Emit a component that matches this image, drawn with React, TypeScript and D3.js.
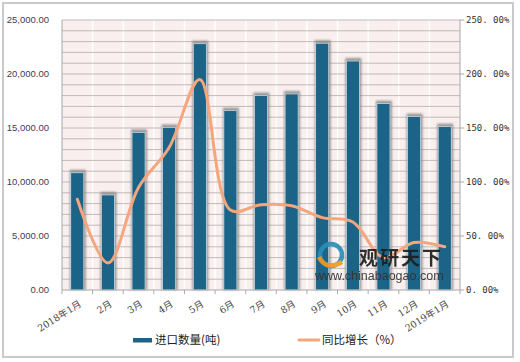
import React, { useEffect, useRef } from 'react';
import * as d3 from 'd3';

const months = ['2018年1月', '2月', '3月', '4月', '5月', '6月', '7月', '8月', '9月', '10月', '11月', '12月', '2019年1月'];
const importQty = [10850, 8800, 14600, 15050, 22800, 16600, 18000, 18150, 22850, 21200, 17250, 16050, 15120];
const yoyGrowth = [84, 25, 95, 132, 195, 74, 79, 78, 67, 63, 30, 44, 40];
const leftTicks = [0, 5000, 10000, 15000, 20000, 25000];
const rightTicks = [0, 50, 100, 150, 200, 250];

const W = 520;
const H = 362;
const margin = { top: 20, right: 60, bottom: 72, left: 62 };

const App: React.FC = () => {
  const svgRef = useRef<SVGSVGElement>(null);

  useEffect(() => {
    if (!svgRef.current) return;
    const svg = d3.select(svgRef.current);
    svg.selectAll('*').remove();

    const x0 = margin.left;
    const x1 = W - margin.right;
    const y0 = H - margin.bottom;
    const y1 = margin.top;

    const defs = svg.append('defs');
    const blur = defs.append('filter').attr('id', 'shadow').attr('x', '-50%').attr('y', '-50%').attr('width', '200%').attr('height', '200%');
    blur.append('feGaussianBlur').attr('stdDeviation', 1.2);

    // outer frame
    svg.append('rect')
      .attr('x', 3).attr('y', 3).attr('width', 510).attr('height', 354)
      .attr('fill', '#fff').attr('stroke', '#c9c9c9').attr('stroke-width', 2);

    const x = d3.scaleBand().domain(months).range([x0, x1]);
    const yL = d3.scaleLinear().domain([0, 25000]).range([y0, y1]);
    const yR = d3.scaleLinear().domain([0, 250]).range([y0, y1]);

    // plot background
    svg.append('rect')
      .attr('x', x0).attr('y', y1).attr('width', x1 - x0).attr('height', y0 - y1)
      .attr('fill', '#f8efee');

    // vertical light lines at category boundaries
    svg.append('g').selectAll('line')
      .data(months.slice(1))
      .enter().append('line')
      .attr('x1', d => x(d)!).attr('x2', d => x(d)!)
      .attr('y1', y1).attr('y2', y0)
      .attr('stroke', '#ffffff').attr('stroke-width', 1.5);

    // horizontal gridlines every 1000
    svg.append('g').selectAll('line')
      .data(d3.range(1000, 25001, 1000))
      .enter().append('line')
      .attr('x1', x0).attr('x2', x1)
      .attr('y1', d => yL(d)).attr('y2', d => yL(d))
      .attr('stroke', '#c0baba').attr('stroke-width', 1);

    // bar shadows
    const bw = 13;
    svg.append('g').selectAll('rect')
      .data(importQty)
      .enter().append('rect')
      .attr('x', (d, i) => x(months[i])! + x.bandwidth() / 2 - bw / 2 - 1)
      .attr('y', d => yL(d) - 3)
      .attr('width', bw + 3)
      .attr('height', d => y0 - yL(d) + 3)
      .attr('fill', '#7a7a7a')
      .attr('opacity', 0.75)
      .attr('filter', 'url(#shadow)');

    // bars
    svg.append('g').selectAll('rect')
      .data(importQty)
      .enter().append('rect')
      .attr('x', (d, i) => x(months[i])! + x.bandwidth() / 2 - bw / 2)
      .attr('y', d => yL(d))
      .attr('width', bw)
      .attr('height', d => y0 - yL(d))
      .attr('fill', '#1b6488')
      .attr('stroke', '#e8eef2').attr('stroke-width', 0.6);

    // axes lines
    svg.append('line').attr('x1', x0).attr('x2', x0).attr('y1', y1).attr('y2', y0)
      .attr('stroke', '#a8a8a8');
    svg.append('line').attr('x1', x0).attr('x2', x1).attr('y1', y0).attr('y2', y0)
      .attr('stroke', '#a8a8a8');
    svg.append('line').attr('x1', x1).attr('x2', x1).attr('y1', y1).attr('y2', y0)
      .attr('stroke', '#a8a8a8');

    // x ticks at boundaries
    svg.append('g').selectAll('line')
      .data(d3.range(0, months.length + 1))
      .enter().append('line')
      .attr('x1', i => x0 + i * x.step()).attr('x2', i => x0 + i * x.step())
      .attr('y1', y0).attr('y2', y0 + 4)
      .attr('stroke', '#a8a8a8');

    // right axis ticks
    svg.append('g').selectAll('line')
      .data(rightTicks)
      .enter().append('line')
      .attr('x1', x1).attr('x2', x1 + 4)
      .attr('y1', d => yR(d)).attr('y2', d => yR(d))
      .attr('stroke', '#a8a8a8');

    // left labels
    svg.append('g').selectAll('text')
      .data(leftTicks)
      .enter().append('text')
      .attr('x', 49).attr('y', d => yL(d)).attr('dy', '0.35em')
      .attr('text-anchor', 'end')
      .attr('font-family', 'Liberation Sans, Arial, sans-serif')
      .attr('font-size', 9.5)
      .attr('fill', '#3e3a5e')
      .text(d => d3.format(',.2f')(d));

    // right labels
    svg.append('g').selectAll('text')
      .data(rightTicks)
      .enter().append('text')
      .attr('x', x1 + 6).attr('y', d => yR(d)).attr('dy', '0.35em')
      .attr('font-family', 'DejaVu Sans Mono, monospace')
      .attr('font-size', 9)
      .attr('fill', '#333')
      .text(d => d3.format('.2f')(d).replace('.', '. ') + '%');

    // x labels rotated
    svg.append('g').selectAll('text')
      .data(months)
      .enter().append('text')
      .attr('transform', d => `translate(${x(d)! + x.bandwidth() / 2 + 3},${y0 + 13}) rotate(-32)`)
      .attr('text-anchor', 'end')
      .attr('dy', '0.35em')
      .attr('font-family', 'DejaVu Serif, "Noto Sans CJK SC", serif')
      .attr('font-size', 9.5)
      .attr('fill', '#444')
      .text(d => d);

    // line
    const line = d3.line<number>()
      .x((d, i) => x(months[i])! + x.bandwidth() / 2)
      .y(d => yR(d))
      .curve(d3.curveCatmullRom.alpha(0.5));
    svg.append('path')
      .datum(yoyGrowth)
      .attr('d', line)
      .attr('fill', 'none')
      .attr('stroke', '#f5a67c')
      .attr('stroke-width', 3)
      .attr('stroke-linecap', 'round');

    // watermark
    const wm = svg.append('g').attr('opacity', 0.92);
    wm.append('circle').attr('cx', 331).attr('cy', 255).attr('r', 11)
      .attr('fill', 'none').attr('stroke', '#2a8fb8').attr('stroke-width', 4.5);
    wm.append('path').attr('d', 'M319,257 Q326,271 342,262')
      .attr('fill', 'none').attr('stroke', '#f29a1f').attr('stroke-width', 4.5);
    wm.append('text').attr('x', 359).attr('y', 265)
      .attr('font-family', '"Noto Sans CJK SC", sans-serif')
      .attr('font-weight', 'bold').attr('font-size', 19).attr('fill', '#1e1e1e')
      .attr('letter-spacing', 2)
      .text('观研天下');
    wm.append('text').attr('x', 315).attr('y', 280)
      .attr('font-family', 'Liberation Sans, Arial, sans-serif')
      .attr('font-size', 12.5).attr('fill', '#333')
      .text('www.chinabaogao.com');

    // legend
    const ly = 340;
    svg.append('rect').attr('x', 133).attr('y', ly - 2).attr('width', 19).attr('height', 4.5).attr('fill', '#1b6488');
    svg.append('text').attr('x', 155).attr('y', ly).attr('dy', '0.35em')
      .attr('font-family', '"Noto Sans CJK SC", sans-serif').attr('font-size', 11.5).attr('fill', '#222')
      .text('进口数量(吨)');
    svg.append('line').attr('x1', 299).attr('x2', 319).attr('y1', ly).attr('y2', ly)
      .attr('stroke', '#f5a67c').attr('stroke-width', 3).attr('stroke-linecap', 'round');
    svg.append('text').attr('x', 322).attr('y', ly).attr('dy', '0.35em')
      .attr('font-family', '"Noto Sans CJK SC", sans-serif').attr('font-size', 11.5).attr('fill', '#222')
      .text('同比增长（%）');
  }, []);

  return (
    <svg ref={svgRef} width={W} height={H} style={{ position: 'absolute', left: 0, top: 0, background: '#fff' }} />
  );
};

export default App;
